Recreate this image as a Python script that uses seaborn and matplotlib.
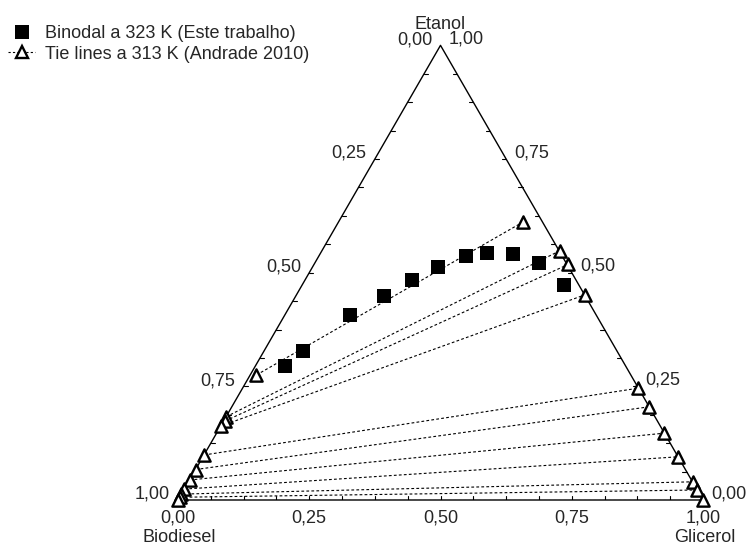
import numpy as np
import pandas as pd
import matplotlib.pyplot as plt
from matplotlib.lines import Line2D
import seaborn as sns

sns.set_style('white')
plt.rcParams['font.family'] = ['Liberation Sans', 'DejaVu Sans']
plt.rcParams['font.size'] = 13

# --- dados (fracoes massicas; biodiesel = 1 - glicerol - etanol) ---
binodal_glicerol = [0.056, 0.075, 0.124, 0.168, 0.203, 0.240, 0.280, 0.317, 0.368, 0.427, 0.498]
binodal_etanol = [0.295, 0.328, 0.407, 0.449, 0.484, 0.512, 0.537, 0.544, 0.540, 0.521, 0.473]

# fase rica em biodiesel
tie_bio_glicerol = [0.012, 0.000, 0.003, 0.001, 0.000, 0.000, 0.000, 0.000, 0.000, 0.000, 0.000]
tie_bio_etanol = [0.275, 0.183, 0.174, 0.163, 0.099, 0.067, 0.044, 0.024, 0.013, 0.006, 0.000]
# fase rica em glicerol
tie_gli_glicerol = [0.352, 0.453, 0.484, 0.549, 0.754, 0.795, 0.853, 0.905, 0.960, 0.978, 1.000]
tie_gli_etanol = [0.612, 0.548, 0.518, 0.451, 0.246, 0.205, 0.147, 0.095, 0.040, 0.022, 0.000]

tick_values = [0.0, 0.25, 0.5, 0.75, 1.0]
tick_labels = ['0,00', '0,25', '0,50', '0,75', '1,00']
legend_labels = ['Binodal a 323 K (Este trabalho)', 'Tie lines a 313 K (Andrade 2010)']

h = np.sqrt(3) / 2


def to_xy(g, e):
    g = np.asarray(g, dtype=float)
    e = np.asarray(e, dtype=float)
    return g + e / 2, e * h


fig = plt.figure(figsize=(7.49, 5.5), dpi=100)
ax = fig.add_axes([178 / 749, 50 / 550, 525 / 749, 525 * h / 550])

# --- triangulo e marcas ---
ax.plot([0, 1, 0.5, 0], [0, 0, h, 0], color='black', lw=1, clip_on=False, zorder=2)
d = 0.008
for t in np.arange(1, 16) / 16:
    ax.plot([t, t], [0, d], color='black', lw=0.8)
    e = 1 - t
    ax.plot([e / 2, e / 2 + d], [e * h, e * h], color='black', lw=0.8)
    ax.plot([1 - t / 2, 1 - t / 2 - d], [t * h, t * h], color='black', lw=0.8)

for v, lab in zip(tick_values, tick_labels):
    ax.annotate(lab, (v, 0), xytext=(0, -7), textcoords='offset points',
                ha='center', va='top', annotation_clip=False)
    e = 1 - v
    ax.annotate(lab, (e / 2, e * h), xytext=(-6, 4), textcoords='offset points',
                ha='right', va='center', annotation_clip=False)
    ax.annotate(lab, (1 - v / 2, v * h), xytext=(6, 4.5), textcoords='offset points',
                ha='left', va='center', annotation_clip=False)

ax.annotate('Etanol', (0.5, h), xytext=(0, 15), textcoords='offset points',
            ha='center', va='center', annotation_clip=False)
ax.annotate('Biodiesel', (0, 0), xytext=(1, -27), textcoords='offset points',
            ha='center', va='center', annotation_clip=False)
ax.annotate('Glicerol', (1, 0), xytext=(1, -27), textcoords='offset points',
            ha='center', va='center', annotation_clip=False)

# --- tie lines ---
rows = []
for i in range(len(tie_bio_etanol)):
    x0, y0 = to_xy(tie_bio_glicerol[i], tie_bio_etanol[i])
    x1, y1 = to_xy(tie_gli_glicerol[i], tie_gli_etanol[i])
    rows.append({'tie': i, 'x': float(x0), 'y': float(y0)})
    rows.append({'tie': i, 'x': float(x1), 'y': float(y1)})
ties = pd.DataFrame(rows)

sns.lineplot(data=ties, x='x', y='y', units='tie', estimator=None, sort=False,
             color='black', lw=0.8, linestyle=(0, (2.5, 2)), legend=False, ax=ax,
             zorder=1)
sns.scatterplot(data=ties, x='x', y='y', marker='^', s=78, color='white',
                edgecolor='black', linewidth=1.7, legend=False, ax=ax,
                zorder=3, clip_on=False)

bx, by = to_xy(binodal_glicerol, binodal_etanol)
sns.scatterplot(x=bx, y=by, marker='s', s=110, color='black', linewidth=0,
                legend=False, ax=ax, zorder=4)

ax.set_xlim(0, 1)
ax.set_ylim(0, h)
ax.axis('off')

handles = [
    Line2D([], [], marker='s', ls='none', color='black', ms=10, mew=0),
    Line2D([], [], marker='^', ls=(0, (2, 2)), lw=0.8, color='black',
           mfc='white', mec='black', ms=8.5, mew=1.7),
]
fig.legend(handles, legend_labels, loc='upper left', bbox_to_anchor=(8 / 749, 1 - 25 / 550),
           frameon=False, fontsize=13, handlelength=1.5, handletextpad=0.55,
           labelspacing=0.2, borderpad=0, borderaxespad=0)

fig.savefig('out.png', dpi=100, facecolor='white')
